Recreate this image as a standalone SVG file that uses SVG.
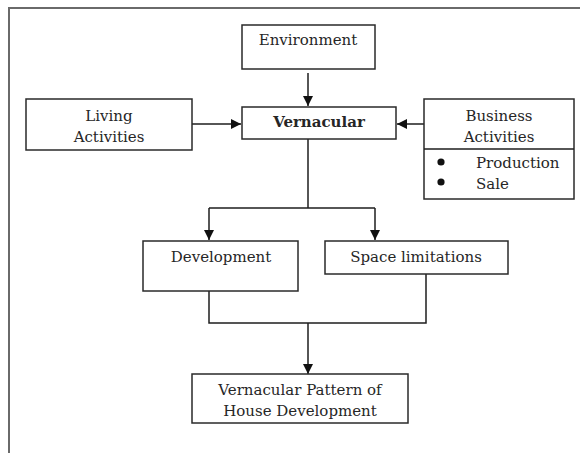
<svg xmlns="http://www.w3.org/2000/svg" width="580" height="453" viewBox="0 0 580 453">
<defs>
<style>
.box{fill:#fff;stroke:#2a2a2a;stroke-width:1.5}
.t{font-family:"DejaVu Serif","Liberation Serif",serif;font-size:15px;fill:#262626;text-anchor:middle}
.tl{text-anchor:start}
.b{font-weight:bold}
.c{fill:none;stroke:#1e1e1e;stroke-width:1.5}
</style>
<marker id="ah" viewBox="0 0 10 10" refX="10" refY="5" markerWidth="10" markerHeight="10" markerUnits="userSpaceOnUse" orient="auto">
<path d="M0,0 L10,5 L0,10 Z" fill="#111"/>
</marker>
</defs>
<rect width="580" height="453" fill="#fff"/>
<path d="M9,453 V8 H580" fill="none" stroke="#6a6a6a" stroke-width="2"/>
<g id="connectors">
<path class="c" d="M308,73 V106" marker-end="url(#ah)"/>
<path class="c" d="M192,124 H241" marker-end="url(#ah)"/>
<path class="c" d="M424,124 H397" marker-end="url(#ah)"/>
<path class="c" d="M308,139 V208"/>
<path class="c" d="M209,208 H375"/>
<path class="c" d="M209,208 V240" marker-end="url(#ah)"/>
<path class="c" d="M375,208 V240" marker-end="url(#ah)"/>
<path class="c" d="M209,291 V323 H426 V274"/>
<path class="c" d="M308,323 V374" marker-end="url(#ah)"/>
</g>
<g id="environment">
<rect class="box" x="242" y="25" width="133" height="44"/>
<text class="t" x="308" y="45">Environment</text>
</g>
<g id="vernacular">
<rect class="box" x="242" y="107" width="154" height="32"/>
<text class="t b" x="319" y="127">Vernacular</text>
</g>
<g id="living-activities">
<rect class="box" x="26" y="99" width="166" height="51"/>
<text class="t" x="109" y="121">Living</text>
<text class="t" x="109" y="142">Activities</text>
</g>
<g id="business-activities">
<rect class="box" x="424" y="99" width="150" height="100"/>
<line class="c" x1="424" y1="149" x2="574" y2="149"/>
<text class="t" x="499" y="121">Business</text>
<text class="t" x="499" y="142">Activities</text>
<circle cx="441" cy="162" r="3.6" fill="#111"/>
<circle cx="441" cy="182" r="3.6" fill="#111"/>
<text class="t tl" x="476" y="168">Production</text>
<text class="t tl" x="476" y="189">Sale</text>
</g>
<g id="development">
<rect class="box" x="143" y="241" width="155" height="50"/>
<text class="t" x="221" y="262">Development</text>
</g>
<g id="space-limitations">
<rect class="box" x="325" y="241" width="183" height="33"/>
<text class="t" x="416" y="262">Space limitations</text>
</g>
<g id="vernacular-pattern">
<rect class="box" x="192" y="374" width="216" height="49"/>
<text class="t" x="300" y="395">Vernacular Pattern of</text>
<text class="t" x="300" y="416">House Development</text>
</g>
</svg>
